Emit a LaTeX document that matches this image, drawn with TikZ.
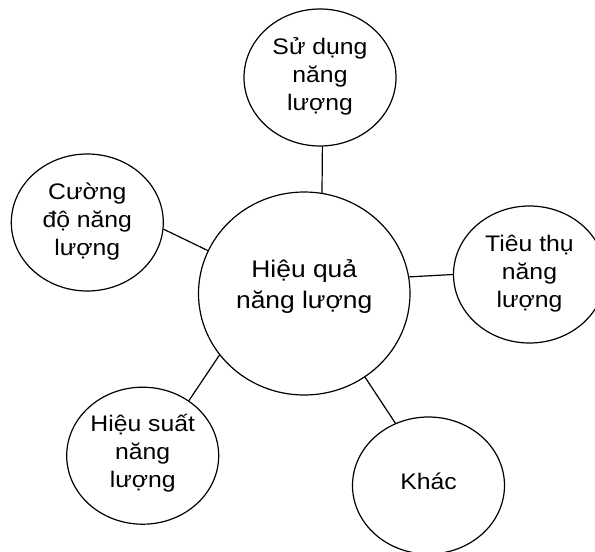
\documentclass[tikz,border=0pt]{standalone}
\usepackage{fontspec}
\setmainfont{Liberation Sans}[FakeStretch=1.1]
\usetikzlibrary{shapes.geometric}
\begin{document}
\begin{tikzpicture}[x=1pt,y=-1pt,
  bubble/.style={draw=black, line width=1.2pt, ellipse, inner sep=0pt, minimum width=152pt, minimum height=137pt},
  hub/.style={bubble, minimum width=211.5pt, minimum height=203pt},
  small/.style={align=center, anchor=base, inner sep=0pt, font=\fontsize{22.5}{28}\selectfont},
  big/.style={align=center, anchor=base, inner sep=0pt, font=\fontsize{24}{30.6}\selectfont},
  link/.style={line width=1.2pt}]
\useasboundingbox (0,0) rectangle (595,552);
\node[hub] (c) at (304.25,293.5) {};
\node[bubble] (u) at (320,77.5) {};
\node[bubble] (i) at (87.3,222.5) {};
\node[bubble] (t) at (529.5,274.5) {};
\node[bubble] (e) at (142.7,455.7) {};
\node[bubble] (k) at (428.5,485.5) {};
\draw[link] (c.80.6) -- (u.272.5);
\draw[link] (c.156.2) -- (i.355.1);
\draw[link] (c.9.9) -- (t.180);
\draw[link] (c.216) -- (e.50.1);
\draw[link] (c.306.1) -- (k.118.1);
\node[big] (tc) at (304.25,308.3) {Hiệu quả\\năng lượng};
\node[small] (tu) at (320,110) {Sử dụng\\năng\\lượng};
\node[small] (ti) at (87.3,255) {Cường\\độ năng\\lượng};
\node[small] (tt) at (529.5,307) {Tiêu thụ\\năng\\lượng};
\node[small] (te) at (142.7,487.5) {Hiệu suất\\năng\\lượng};
\node[small] (tk) at (428.5,489.3) {Khác};
\end{tikzpicture}
\end{document}
